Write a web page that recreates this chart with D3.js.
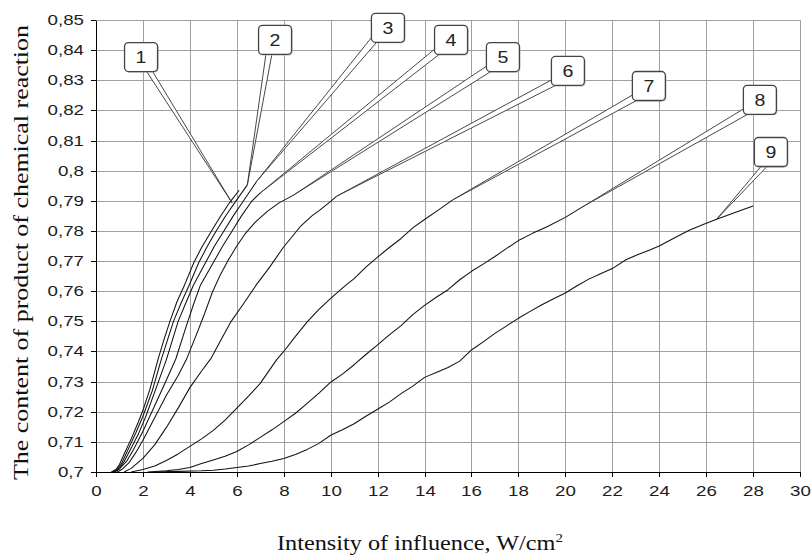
<!DOCTYPE html>
<html><head><meta charset="utf-8">
<script src="https://cdn.jsdelivr.net/npm/d3@7"></script>
<style>body{margin:0;background:#fff}</style></head>
<body><svg id="c" width="812" height="557"></svg>
<script>
// ---- data ----
const xTicks = [0,2,4,6,8,10,12,14,16,18,20,22,24,26,28,30];
const yTicks = [0.70,0.71,0.72,0.73,0.74,0.75,0.76,0.77,0.78,0.79,0.80,0.81,0.82,0.83,0.84,0.85];
const xTitle = "Intensity of influence, W/cm";
const xTitleSup = "2";
const yTitle = "The content of product of  chemical reaction";

const curve1 = [[0.65,0.700],[0.85,0.7008],[1.0,0.7025],[1.2,0.706],[1.5,0.711],[1.8,0.7165],[2.0,0.7205],[2.3,0.7275],[2.64,0.7373],[2.9,0.744],[3.15,0.75],[3.45,0.7565],[3.77,0.762],[4.17,0.7695],[4.5,0.7745],[4.92,0.78],[5.3,0.7848],[5.7,0.7895],[6.1,0.7935]];
const curve2 = [[0.7,0.700],[0.9,0.7008],[1.1,0.703],[1.4,0.708],[1.7,0.713],[2.0,0.7185],[2.4,0.727],[2.78,0.7373],[3.3,0.75],[3.65,0.7565],[3.97,0.762],[4.38,0.7695],[4.75,0.775],[5.12,0.78],[5.55,0.7853],[5.95,0.7898],[6.45,0.7953]];
const curve3 = [[0.75,0.700],[1.0,0.7012],[1.2,0.7035],[1.5,0.708],[1.8,0.7125],[2.1,0.718],[2.5,0.7265],[3.0,0.7373],[3.5,0.75],[3.85,0.7565],[4.15,0.762],[4.67,0.7695],[5.05,0.775],[5.45,0.78],[5.85,0.785],[6.2,0.789],[6.85,0.7965]];
const curve4 = [[0.8,0.700],[1.0,0.701],[1.3,0.7035],[1.6,0.7075],[2.0,0.7135],[2.5,0.722],[3.0,0.7305],[3.4,0.7375],[3.85,0.7485],[4.15,0.7555],[4.45,0.762],[5.0,0.7695],[5.4,0.775],[5.8,0.78],[6.2,0.785],[6.65,0.79],[7.0,0.7926]];
const curve5 = [[0.9,0.700],[1.1,0.7008],[1.4,0.703],[1.7,0.7065],[2.0,0.7105],[2.5,0.718],[3.0,0.7255],[3.5,0.732],[3.85,0.7373],[4.3,0.746],[4.6,0.752],[4.95,0.7595],[5.3,0.7655],[5.65,0.7705],[6.0,0.775],[6.35,0.779],[6.8,0.783],[7.3,0.7865],[7.8,0.7893],[8.4,0.7918]];
const curve6 = [[1.2,0.700],[1.5,0.7012],[2.0,0.7045],[2.5,0.709],[3.0,0.7148],[3.5,0.7212],[4.0,0.728],[4.5,0.7335],[4.91,0.7378],[5.3,0.7435],[5.76,0.75],[6.3,0.756],[6.82,0.762],[7.4,0.768],[7.98,0.7745],[8.7,0.7814],[9.2,0.785],[9.55,0.787],[10.0,0.7898],[10.25,0.7915]];
const curve7 = [[1.5,0.700],[2.0,0.7008],[2.5,0.702],[3.0,0.7038],[3.5,0.706],[4.0,0.7085],[4.5,0.711],[5.0,0.7138],[5.5,0.7172],[6.0,0.7212],[6.5,0.7252],[7.0,0.7294],[7.7,0.7373],[8.0,0.74],[8.5,0.745],[9.0,0.7498],[9.5,0.754],[10.0,0.7576],[10.65,0.762],[11.0,0.7642],[11.5,0.768],[12.0,0.7713],[12.5,0.7745],[13.0,0.7775],[13.5,0.781],[14.0,0.7838],[14.6,0.787],[15.2,0.7903]];
const curve8 = [[2.2,0.700],[3.0,0.7004],[3.5,0.7008],[4.0,0.7015],[4.5,0.7028],[5.0,0.704],[5.5,0.7052],[6.0,0.7068],[6.5,0.709],[7.0,0.7115],[7.5,0.714],[8.0,0.7167],[8.5,0.7195],[9.0,0.7228],[9.5,0.7262],[10.0,0.7298],[10.5,0.7325],[11.0,0.7356],[11.5,0.739],[12.0,0.7422],[12.5,0.7455],[13.0,0.7486],[13.5,0.7522],[14.0,0.7553],[14.5,0.758],[15.0,0.7605],[15.5,0.7638],[16.0,0.7666],[16.5,0.769],[17.0,0.7715],[17.5,0.7742],[18.0,0.7768],[18.6,0.7792],[19.2,0.7813],[20.0,0.7845],[20.8,0.7883]];
const curve9 = [[2.5,0.700],[3.5,0.7002],[4.5,0.7004],[5.0,0.7006],[5.5,0.701],[6.0,0.7015],[6.5,0.702],[7.0,0.7028],[7.5,0.7036],[8.0,0.7045],[8.5,0.7058],[9.0,0.7075],[9.5,0.7095],[10.0,0.7122],[10.5,0.714],[11.0,0.716],[11.5,0.7185],[12.0,0.7208],[12.5,0.7232],[13.0,0.726],[13.5,0.7285],[14.0,0.7314],[14.5,0.733],[15.0,0.7347],[15.5,0.7368],[16.0,0.7405],[16.5,0.7432],[17.0,0.746],[17.5,0.7485],[18.0,0.751],[18.5,0.7533],[19.0,0.7555],[19.5,0.7575],[20.0,0.7594],[20.5,0.7618],[21.0,0.764],[21.5,0.7658],[22.0,0.7675],[22.6,0.7705],[23.1,0.7722],[23.6,0.7737],[24.0,0.775],[24.6,0.7775],[25.3,0.7803],[25.9,0.7822],[26.45,0.7839],[27.2,0.786],[28.0,0.7883]];
const curves = [curve1,curve2,curve3,curve4,curve5,curve6,curve7,curve8,curve9];

// callout labels: box centre and pointer tip in chart units
const calloutLabels = ["1","2","3","4","5","6","7","8","9"];
const calloutBoxX = [1.92,7.63,12.44,15.13,17.34,20.11,23.56,28.29,28.76];
const calloutBoxY = [0.8377,0.8434,0.8474,0.8434,0.8377,0.8331,0.8281,0.8235,0.8062];
const calloutTipX = [5.8,6.45,6.85,7.0,8.4,10.25,15.2,20.8,26.45];
const calloutTipY = [0.7893,0.7953,0.7965,0.7926,0.7918,0.7915,0.7903,0.7883,0.7839];
const calloutAttach = ["b+8","b-6","c","c","c","c","c","c","b-6"];

// ---- drawing ----
const SANS = "'Liberation Sans', Arial, sans-serif";
const SERIF = "'Liberation Serif', 'Times New Roman', serif";
const svg = d3.select("#c");
const m = {left:96, right:800, top:20, bottom:472};
const x = d3.scaleLinear().domain([0,30]).range([m.left,m.right]);
const y = d3.scaleLinear().domain([0.70,0.85]).range([m.bottom,m.top]);
const xr = x.copy().interpolate(d3.interpolateRound);
const yr = y.copy().interpolate(d3.interpolateRound);

const grid = svg.append("g").attr("stroke","#a0a0a0").attr("stroke-width",1).attr("shape-rendering","crispEdges");
grid.selectAll("line.v").data(xTicks).join("line").attr("class","v")
  .attr("x1",d=>xr(d)+0.5).attr("x2",d=>xr(d)+0.5).attr("y1",m.top+0.5).attr("y2",m.bottom+0.5);
grid.selectAll("line.h").data(yTicks).join("line").attr("class","h")
  .attr("y1",d=>yr(d)+0.5).attr("y2",d=>yr(d)+0.5).attr("x1",m.left+0.5).attr("x2",m.right+0.5);

const line = d3.line().x(d=>x(d[0])).y(d=>y(d[1])).curve(d3.curveLinear);
svg.append("g").selectAll("path").data(curves).join("path")
  .attr("d",line).attr("fill","none").attr("stroke","#111").attr("stroke-width",1.05)
  .attr("stroke-linejoin","round");

// callouts
const BW = 33, BH = 29;
const cg = svg.append("g");
calloutLabels.forEach((lab,i)=>{
  const cx = x(calloutBoxX[i]), cy = y(calloutBoxY[i]);
  const left = cx-BW/2, bottom = cy+BH/2;
  const tx = x(calloutTipX[i]), ty = y(calloutTipY[i]);
  let p1, p2;
  const a = calloutAttach[i];
  if (a[0]==="b") { const off = +a.slice(1); p1=[cx+off-3,bottom-1]; p2=[cx+off+3,bottom-1]; }
  else { p1=[left+1,bottom-6]; p2=[left+6,bottom-1]; }
  cg.append("path").attr("d",`M${p1[0]},${p1[1]}L${tx},${ty}L${p2[0]},${p2[1]}Z`)
    .attr("fill","#fff").attr("stroke","#333").attr("stroke-width",0.9).attr("stroke-linejoin","miter");
  cg.append("rect").attr("x",left+1).attr("y",cy-BH/2+1).attr("width",BW).attr("height",BH).attr("rx",4)
    .attr("fill","#bbb");
  cg.append("rect").attr("x",left).attr("y",cy-BH/2).attr("width",BW).attr("height",BH).attr("rx",4)
    .attr("fill","#fff").attr("stroke","#444").attr("stroke-width",1.3);
  cg.append("text").attr("x",cx/1.15).attr("y",cy).attr("dy","0.36em").attr("transform","scale(1.15,1)")
    .attr("text-anchor","middle").style("font-family",SANS).style("font-size","17px").attr("fill","#222").text(lab);
});

// axes
const loc = d3.formatLocale({decimal:",", thousands:" ", grouping:[3], currency:["",""]});
const yFmt = loc.format(".2~f");
const SX = 1.25;
const gx = svg.append("g").attr("transform",`translate(0,${m.bottom})`)
  .call(d3.axisBottom(xr).tickValues(xTicks).tickFormat(d3.format("d")).tickSizeInner(5).tickSizeOuter(0).tickPadding(8));
const gy = svg.append("g").attr("transform",`translate(${m.left},0)`)
  .call(d3.axisLeft(yr).tickValues(yTicks).tickFormat(yFmt).tickSizeInner(5).tickSizeOuter(0).tickPadding(7));
[gx,gy].forEach(g=>{
  g.attr("font-size",null).attr("font-family",null);
  g.select(".domain").attr("stroke","#000");
  g.selectAll(".tick line").attr("stroke","#000");
  g.selectAll("text").style("font-family",SANS).style("font-size","15px")
    .attr("fill","#1d1d1d").attr("transform",`scale(${SX},1)`)
    .attr("x",function(){ return (+this.getAttribute("x")||0)/SX; });
});

// titles
const xt = svg.append("text").attr("x",420).attr("y",550).attr("text-anchor","middle")
  .style("font-family",SERIF).style("font-size","21px").attr("fill","#111")
  .attr("textLength",286).attr("lengthAdjust","spacingAndGlyphs");
xt.append("tspan").text(xTitle);
xt.append("tspan").attr("dy",-8).style("font-size","13px").text(xTitleSup);

svg.append("text").attr("transform","translate(28,252.5) rotate(-90)").attr("text-anchor","middle")
  .style("font-family",SERIF).style("font-size","21px").attr("fill","#111")
  .attr("textLength",455).attr("lengthAdjust","spacingAndGlyphs").text(yTitle);
</script></body></html>
